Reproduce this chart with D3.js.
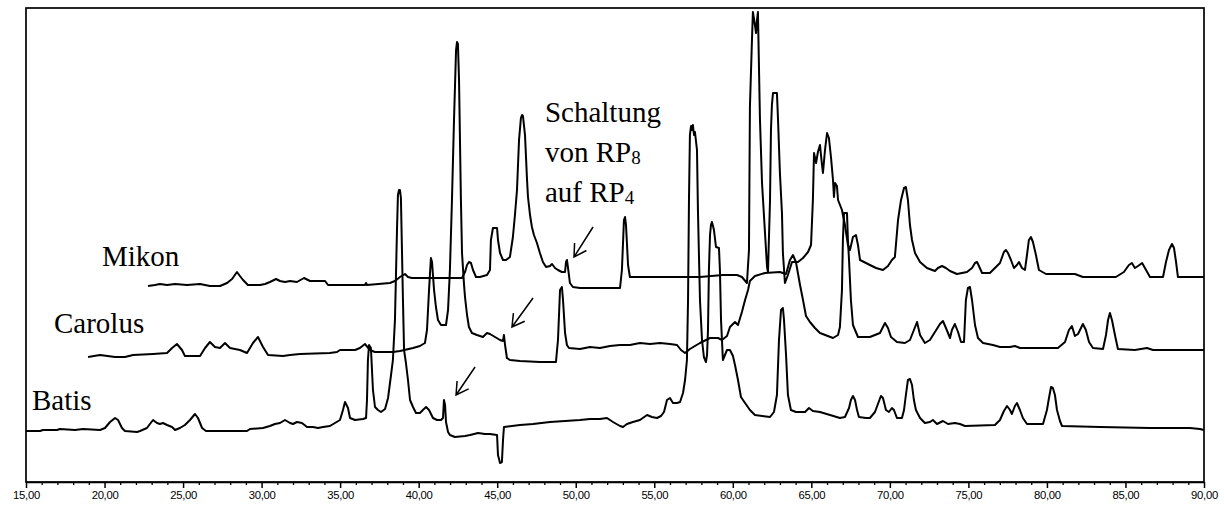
<!DOCTYPE html>
<html><head><meta charset="utf-8">
<script src="https://cdn.jsdelivr.net/npm/d3@7"></script>
<style>body{margin:0;background:#fff}svg{display:block}</style>
</head><body>
<svg id="c" width="1224" height="506"></svg>
<script>
// retention time (min), detector signal (arbitrary units, incl. trace offset)
const majorTicks = [15,20,25,30,35,40,45,50,55,60,65,70,75,80,85,90];
const minorTicks = [16,17,18,19,21,22,23,24,26,27,28,29,31,32,33,34,36,37,38,39,41,42,43,44,46,47,48,49,51,52,53,54,56,57,58,59,61,62,63,64,66,67,68,69,71,72,73,74,76,77,78,79,81,82,83,84,86,87,88,89];
const seriesNames = ["Mikon","Carolus","Batis"];

const batis = [[15.00,51],[15.89,51],[16.08,52],[16.97,52],[17.16,53],[18.12,52],[18.63,53],[19.71,52],[20.03,54],[20.35,60],[20.67,64],[20.86,62],[21.11,54],[21.30,51],[22.07,50],[22.26,51],[22.70,54],[22.89,58],[23.09,62],[23.34,59],[23.53,58],[23.72,59],[23.98,57],[24.30,55],[24.49,52],[24.80,54],[25.12,57],[25.44,62],[25.76,68],[25.95,64],[26.21,54],[26.46,51],[29.07,51],[29.26,53],[30.09,54],[30.53,56],[30.85,58],[31.17,59],[31.49,62],[31.81,59],[32.00,58],[32.25,60],[32.57,59],[32.89,55],[33.27,55],[33.59,54],[33.91,55],[34.35,56],[34.67,59],[34.99,62],[35.18,72],[35.31,80],[35.50,74],[35.63,64],[35.95,62],[36.45,63],[36.65,64],[36.71,82],[36.77,122],[36.84,137],[36.96,134],[37.09,92],[37.22,75],[37.41,72],[37.60,70],[37.86,73],[38.05,84],[38.24,107],[38.36,122],[38.49,162],[38.62,252],[38.68,287],[38.75,292],[38.81,292],[38.87,284],[39.00,182],[39.07,132],[39.19,119],[39.32,102],[39.45,82],[39.64,75],[39.83,69],[40.08,69],[40.27,72],[40.47,75],[40.66,72],[40.91,64],[41.17,62],[41.42,62],[41.55,64],[41.61,82],[41.68,77],[41.74,60],[41.87,50],[41.99,47],[42.31,45],[42.95,46],[43.27,47],[43.78,49],[44.22,48],[44.54,48],[44.99,47],[45.05,27],[45.18,19],[45.30,20],[45.37,42],[45.43,55],[46.45,57],[47.28,58],[48.36,60],[49.32,61],[50.27,62],[50.91,63],[51.54,63],[51.99,64],[52.37,60],[52.82,56],[53.01,55],[53.26,58],[53.64,60],[54.09,62],[54.54,67],[54.85,65],[55.17,64],[55.43,66],[55.62,70],[55.81,82],[56.00,84],[56.19,79],[56.45,79],[56.64,80],[56.83,89],[56.96,102],[57.08,122],[57.15,182],[57.21,282],[57.27,347],[57.34,356],[57.40,352],[57.46,357],[57.53,347],[57.59,350],[57.72,332],[57.78,272],[57.91,182],[58.04,142],[58.16,125],[58.29,120],[58.36,127],[58.42,152],[58.48,212],[58.55,247],[58.61,257],[58.67,260],[58.74,256],[58.80,252],[58.93,235],[59.12,234],[59.18,212],[59.25,162],[59.37,122],[59.50,127],[59.63,132],[59.82,132],[60.01,126],[60.14,117],[60.33,102],[60.52,85],[60.78,79],[61.09,72],[61.41,67],[62.37,65],[62.62,70],[62.81,87],[62.94,142],[63.07,172],[63.19,174],[63.26,162],[63.39,127],[63.51,87],[63.70,72],[64.02,70],[64.60,70],[64.85,74],[65.10,71],[65.55,70],[66.19,67],[66.82,64],[67.14,65],[67.40,74],[67.52,82],[67.65,86],[67.78,82],[67.91,72],[68.03,65],[68.48,64],[68.73,64],[69.05,70],[69.24,78],[69.43,86],[69.56,84],[69.75,72],[69.94,70],[70.13,74],[70.26,72],[70.45,64],[70.77,64],[70.90,72],[71.02,87],[71.15,102],[71.28,103],[71.41,97],[71.53,82],[71.66,72],[71.92,64],[72.23,59],[72.55,60],[72.74,62],[73.00,58],[73.38,61],[73.70,58],[74.14,59],[74.46,58],[74.78,56],[76.69,57],[77.01,62],[77.26,71],[77.46,76],[77.65,72],[77.77,68],[77.96,76],[78.09,79],[78.28,72],[78.47,64],[78.73,58],[79.75,58],[80.00,72],[80.13,84],[80.26,95],[80.38,94],[80.51,87],[80.64,72],[80.83,61],[80.96,56],[83.38,55],[86.56,54],[89.11,54],[89.74,53],[90.00,52]];

const carolus = [[18.95,125],[19.71,127],[20.67,125],[21.30,125],[21.81,127],[23.09,128],[23.98,129],[24.30,134],[24.61,138],[24.93,132],[25.12,126],[26.08,126],[26.40,134],[26.71,140],[27.03,135],[27.35,134],[27.67,139],[27.99,134],[28.62,132],[29.07,129],[29.45,139],[29.77,145],[30.09,135],[30.41,127],[31.36,126],[31.81,127],[32.44,128],[34.35,129],[34.80,130],[34.99,132],[35.95,132],[36.26,134],[36.58,138],[36.90,132],[37.22,130],[38.36,130],[38.81,131],[39.64,134],[40.08,136],[40.40,139],[40.53,152],[40.66,192],[40.78,224],[40.85,220],[40.98,192],[41.10,175],[41.23,162],[41.42,157],[41.74,157],[41.87,172],[41.99,212],[42.12,282],[42.25,362],[42.38,432],[42.44,440],[42.50,438],[42.57,402],[42.69,282],[42.76,229],[42.89,197],[42.95,185],[43.08,167],[43.20,155],[43.39,149],[43.71,147],[44.09,145],[44.35,149],[44.54,148],[44.86,145],[45.18,142],[45.37,141],[45.43,147],[45.50,137],[45.62,124],[45.81,122],[46.45,121],[47.72,120],[48.74,120],[48.87,142],[49.00,192],[49.12,195],[49.19,182],[49.32,149],[49.44,137],[49.57,134],[50.27,133],[50.91,135],[51.54,134],[52.18,136],[52.82,137],[53.45,137],[54.09,139],[54.73,138],[55.36,139],[56.00,138],[56.45,137],[56.70,132],[56.96,129],[57.27,133],[57.91,139],[58.55,144],[59.06,144],[59.31,142],[59.63,146],[59.82,155],[60.14,160],[60.33,157],[60.58,170],[60.78,182],[60.97,192],[61.09,201],[61.41,206],[62.05,209],[63.00,210],[63.39,208],[63.64,222],[63.83,227],[64.02,220],[64.28,197],[64.47,182],[64.66,166],[64.91,160],[65.23,154],[65.55,149],[66.38,144],[66.70,147],[66.82,155],[66.95,192],[67.01,242],[67.08,269],[67.27,269],[67.33,242],[67.40,222],[67.52,182],[67.65,157],[67.97,145],[68.73,145],[69.37,149],[69.56,155],[69.69,159],[69.88,154],[70.07,145],[70.45,140],[70.96,139],[71.28,142],[71.53,152],[71.73,160],[71.92,147],[72.23,139],[72.55,142],[72.87,150],[73.19,158],[73.38,161],[73.57,154],[73.83,144],[73.95,152],[74.14,158],[74.34,150],[74.53,140],[74.72,140],[74.84,182],[74.97,194],[75.10,195],[75.23,182],[75.42,157],[75.61,144],[75.93,139],[76.56,137],[77.01,135],[77.65,135],[77.96,136],[78.28,134],[80.70,134],[81.15,140],[81.40,152],[81.59,156],[81.78,146],[81.98,148],[82.29,158],[82.48,152],[82.68,140],[82.93,134],[83.57,133],[83.76,147],[83.89,162],[84.01,169],[84.14,162],[84.33,147],[84.52,133],[85.60,132],[86.37,134],[86.75,132],[90.00,132]];

const mikon = [[22.77,196],[23.21,197],[23.53,198],[23.98,197],[24.49,198],[25.25,197],[26.08,198],[26.71,196],[27.35,196],[27.80,199],[28.12,203],[28.43,210],[28.62,206],[28.82,202],[29.13,197],[29.90,197],[30.22,198],[30.53,200],[30.92,203],[31.17,201],[31.49,200],[31.81,201],[32.25,200],[32.70,204],[33.08,201],[33.59,201],[34.04,201],[34.23,197],[36.58,197],[36.65,199],[36.71,197],[38.17,199],[38.49,201],[38.81,205],[39.13,208],[39.32,205],[39.57,204],[40.40,204],[41.36,204],[42.31,204],[42.76,204],[42.95,210],[43.08,217],[43.20,220],[43.33,219],[43.46,212],[43.65,205],[43.90,205],[44.35,207],[44.54,212],[44.60,242],[44.73,254],[44.99,254],[45.05,242],[45.18,229],[45.37,222],[45.56,222],[45.81,225],[46.00,245],[46.13,267],[46.26,292],[46.39,342],[46.51,364],[46.58,367],[46.64,366],[46.77,347],[46.90,302],[46.96,285],[47.09,267],[47.21,255],[47.34,247],[47.53,239],[47.72,229],[47.91,220],[48.11,215],[48.36,216],[48.49,218],[48.68,214],[48.87,212],[49.12,210],[49.32,210],[49.38,220],[49.44,222],[49.51,214],[49.63,199],[49.82,195],[50.27,194],[51.54,194],[52.82,194],[52.94,212],[53.07,262],[53.14,265],[53.20,257],[53.33,217],[53.45,205],[54.09,205],[55.36,205],[56.64,205],[57.91,205],[59.37,207],[60.27,207],[60.58,205],[60.90,199],[61.03,232],[61.09,375],[61.22,442],[61.28,470],[61.41,457],[61.48,449],[61.54,462],[61.60,470],[61.73,362],[61.86,299],[62.05,249],[62.18,215],[62.24,210],[62.37,282],[62.43,352],[62.49,377],[62.56,389],[62.81,389],[62.88,362],[63.00,309],[63.13,269],[63.19,229],[63.32,199],[63.51,207],[63.77,220],[64.15,220],[64.47,224],[64.79,230],[64.98,237],[65.10,282],[65.17,329],[65.30,319],[65.42,330],[65.55,337],[65.68,317],[65.74,309],[65.87,332],[66.00,349],[66.12,344],[66.25,325],[66.38,302],[66.44,285],[66.51,299],[66.63,296],[66.70,282],[66.95,272],[67.14,257],[67.33,237],[67.46,232],[67.65,245],[67.84,247],[67.97,237],[68.10,222],[68.48,219],[68.73,217],[69.12,214],[69.56,212],[69.88,216],[70.13,222],[70.32,225],[70.52,262],[70.71,282],[70.90,294],[71.02,295],[71.15,282],[71.28,257],[71.41,242],[71.60,229],[71.92,220],[72.36,214],[72.87,211],[73.06,214],[73.32,216],[73.57,214],[73.83,211],[74.27,208],[74.91,210],[75.23,214],[75.42,219],[75.55,220],[75.67,216],[75.87,209],[76.37,209],[77.01,219],[77.26,230],[77.39,232],[77.52,229],[77.71,222],[77.90,214],[78.09,217],[78.22,220],[78.41,214],[78.60,212],[78.73,227],[78.85,242],[78.98,245],[79.11,240],[79.30,227],[79.49,212],[79.94,208],[80.83,208],[81.78,208],[82.29,205],[84.39,205],[84.90,210],[85.22,217],[85.41,219],[85.60,214],[85.80,216],[86.06,219],[86.31,212],[86.56,205],[87.39,205],[87.58,220],[87.77,232],[87.96,238],[88.09,234],[88.22,220],[88.34,205],[90.00,205]];

// label anchors [time, signal]
const nameAnchors = [[19.84,216],[16.78,149],[15.38,72]];
const noteLines = [["Schaltung",""],["von RP","8"],["auf RP","4"]];
const noteAnchor = [48.04, 360];
// switching arrows: [tail time, tail signal, tip time, tip signal]
const arrows = [[51.10,255,49.89,225],[47.28,184,45.94,155],[43.59,115,42.38,87]];

const svg = d3.select("#c");
const x = d3.scaleLinear().domain([15,90]).range([26,1204]);
const y = d3.scaleLinear().domain([0,474]).range([482,8]);

// frame
svg.append("rect").attr("x",x(15)).attr("y",y(474)).attr("width",x(90)-x(15)).attr("height",y(0)-y(474))
  .attr("fill","none").attr("stroke","#000").attr("stroke-width",1.7);

// axes
const fmt = d => d3.format(".2f")(d).replace(".",",");
svg.append("g").attr("transform",`translate(0,${y(0)})`)
  .call(d3.axisBottom(x).tickValues(minorTicks).tickSize(3).tickFormat(""))
  .call(g=>g.select(".domain").remove())
  .call(g=>g.selectAll("line").attr("stroke","#000").attr("stroke-width",1.3));
const gx = svg.append("g").attr("transform",`translate(0,${y(0)})`)
  .call(d3.axisBottom(x).tickValues(majorTicks).tickSize(6).tickSizeOuter(0).tickFormat(fmt));
gx.select(".domain").attr("stroke","#000").attr("stroke-width",1.7);
gx.selectAll("line").attr("stroke","#000").attr("stroke-width",1.5);
gx.selectAll("text").attr("font-family","'Liberation Sans', Arial, sans-serif").attr("font-size","11.3px").attr("fill","#000").attr("letter-spacing","-0.3px");

// traces
const line = d3.line().x(d=>x(d[0])).y(d=>y(d[1]));
[mikon, carolus, batis].forEach(s=>{
  svg.append("path").datum(s).attr("d",line).attr("fill","none")
    .attr("stroke","#000").attr("stroke-width",2).attr("stroke-linejoin","round");
});

const serif = "'Liberation Serif', 'Times New Roman', serif";
// names
seriesNames.forEach((n,i)=>{
  svg.append("text").attr("x",x(nameAnchors[i][0])).attr("y",y(nameAnchors[i][1]))
    .attr("font-family",serif).attr("font-size","29px").attr("fill","#000").text(n);
});
// note
noteLines.forEach((l,i)=>{
  const t = svg.append("text").attr("x",x(noteAnchor[0])).attr("y",y(noteAnchor[1])+i*40)
    .attr("font-family",serif).attr("font-size","29px").attr("fill","#000");
  t.append("tspan").text(l[0]);
  if(l[1]) t.append("tspan").attr("font-size","19px").attr("dy",2).text(l[1]);
});
// arrows
arrows.forEach(a=>{
  const x1=x(a[0]), y1=y(a[1]), x2=x(a[2]), y2=y(a[3]);
  const ang = Math.atan2(y1-y2, x1-x2), L=14, w=Math.PI/6;
  const p = d3.path();
  p.moveTo(x1,y1); p.lineTo(x2,y2);
  p.moveTo(x2+L*Math.cos(ang+w), y2+L*Math.sin(ang+w)); p.lineTo(x2,y2);
  p.lineTo(x2+L*Math.cos(ang-w), y2+L*Math.sin(ang-w));
  svg.append("path").attr("d",p.toString()).attr("fill","none").attr("stroke","#000").attr("stroke-width",1.5);
});
</script>
</body></html>
